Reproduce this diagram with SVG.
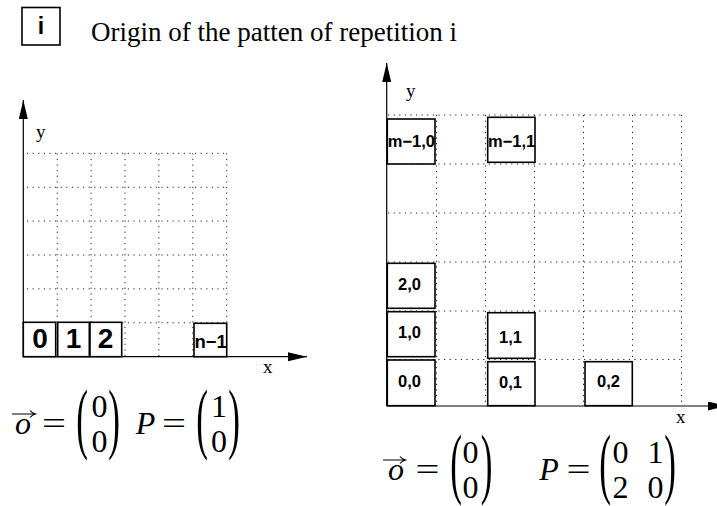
<svg xmlns="http://www.w3.org/2000/svg" width="717" height="506" viewBox="0 0 717 506">
<style>
.grid{stroke:#222;stroke-width:1;stroke-dasharray:1.2 4.4;fill:none}
.axis{stroke:#000;stroke-width:1.2;fill:none}
.box{fill:#fff;stroke:#000;stroke-width:1.6}
.lbl{font-family:"Liberation Sans",Arial,sans-serif;font-weight:bold;fill:#000}
.serif{font-family:"Liberation Serif","Times New Roman",serif;fill:#000}
.math{font-family:"Liberation Serif","Times New Roman",serif;font-size:32px;fill:#000}
.it{font-style:italic}
</style>
<defs>
<marker id="ah" markerWidth="20" markerHeight="10" refX="19" refY="4.5" orient="auto" markerUnits="userSpaceOnUse">
<path d="M0,0 L19,4.5 L0,9 Z" fill="#000"/>
</marker>
</defs>
<rect width="717" height="506" fill="#fff"/>

<g id="legend">
<rect class="box" x="22" y="7.5" width="38" height="37.5"/>
<text class="lbl" x="41" y="34" font-size="23" text-anchor="middle">i</text>
<text class="serif" x="91" y="41" font-size="27">Origin of the patten of repetition i</text>
</g>

<!-- Left grid -->
<g id="left-grid" class="grid">
<path d="M27,153.3H227M27,187.2H227M27,221.1H227M27,255H227M27,288.9H227M27,322.8H227"/>
<path d="M57.2,153.3V356.7M91.1,153.3V356.7M125,153.3V356.7M158.9,153.3V356.7M192.8,153.3V356.7M226.7,153.3V356.7"/>
</g>

<!-- Right grid -->
<g id="right-grid" class="grid">
<path d="M388,115H681.5M388,164H681.5M388,213H681.5M388,262H681.5M388,311H681.5M388,359.5H681.5"/>
<path d="M436.5,115V406M485.5,115V406M534.5,115V406M583.5,115V406M632.5,115V406M681.5,115V406"/>
</g>

<g id="connectors">
<line class="axis" x1="23.3" y1="356.7" x2="23.3" y2="100" marker-end="url(#ah)"/>
<line class="axis" x1="23.3" y1="356.7" x2="307" y2="356.7" marker-end="url(#ah)"/>
<line class="axis" x1="386.7" y1="406" x2="386.7" y2="63" marker-end="url(#ah)"/>
<line class="axis" x1="386.7" y1="406" x2="727" y2="406" marker-end="url(#ah)"/>
</g>

<g id="axis-labels" class="serif" font-size="19">
<text x="36" y="138">y</text>
<text x="263" y="373">x</text>
<text x="406" y="97">y</text>
<text x="676" y="423">x</text>
</g>

<!-- Left boxes -->
<g id="n0"><rect class="box" x="23.3" y="322.3" width="32.4" height="34.4"/><text class="lbl" x="40" y="348" font-size="28" text-anchor="middle">0</text></g>
<g id="n1"><rect class="box" x="57.7" y="322.3" width="31.6" height="34.4"/><text class="lbl" x="73.5" y="348" font-size="28" text-anchor="middle">1</text></g>
<g id="n2"><rect class="box" x="90" y="322.3" width="31.7" height="34.4"/><text class="lbl" x="105.5" y="348" font-size="28" text-anchor="middle">2</text></g>
<g id="nn1"><rect class="box" x="194" y="323.3" width="32.7" height="33.4"/><text class="lbl" x="194.5" y="348" font-size="18.5">n−1</text></g>

<!-- Right boxes -->
<g id="m10"><rect class="box" x="387.3" y="119" width="47.7" height="45"/><text class="lbl" x="387.8" y="147" font-size="16.5">m−1,0</text></g>
<g id="m11"><rect class="box" x="487.7" y="117.3" width="47.3" height="45"/><text class="lbl" x="488" y="147" font-size="16.5">m−1,1</text></g>
<g id="r20"><rect class="box" x="387.3" y="263.3" width="47.7" height="45"/><text class="lbl" x="398" y="290" font-size="16.5">2,0</text></g>
<g id="r10"><rect class="box" x="387.3" y="311.7" width="47.7" height="45"/><text class="lbl" x="398" y="338" font-size="16.5">1,0</text></g>
<g id="r00"><rect class="box" x="387.3" y="360" width="47.7" height="45.7"/><text class="lbl" x="398" y="387" font-size="16.5">0,0</text></g>
<g id="r11"><rect class="box" x="487.7" y="312.7" width="47.3" height="45.6"/><text class="lbl" x="499" y="343" font-size="16.5">1,1</text></g>
<g id="r01"><rect class="box" x="487.7" y="361.7" width="47.3" height="44"/><text class="lbl" x="499" y="388" font-size="16.5">0,1</text></g>
<g id="r02"><rect class="box" x="585" y="361.7" width="47.3" height="44"/><text class="lbl" x="597" y="387" font-size="16.5">0,2</text></g>

<!-- Left formula -->
<g id="formula-left" class="math">
<path d="M12,414H35M30,410.5Q32,413 35.5,414Q32,415 30,417.5" stroke="#000" stroke-width="1.2" fill="none"/>
<text class="it" x="23" y="434" text-anchor="middle">o</text>
<text x="42" y="434" textLength="24" lengthAdjust="spacingAndGlyphs">=</text>
<text transform="translate(82,444) scale(1.1,2.45)" text-anchor="middle">(</text>
<text x="99.5" y="417" text-anchor="middle">0</text>
<text x="99.5" y="452" text-anchor="middle">0</text>
<text transform="translate(114,444) scale(1.1,2.45)" text-anchor="middle">)</text>
<text class="it" x="145.5" y="434" text-anchor="middle">P</text>
<text x="162" y="434" textLength="24" lengthAdjust="spacingAndGlyphs">=</text>
<text transform="translate(202,444) scale(1.1,2.45)" text-anchor="middle">(</text>
<text x="219" y="417" text-anchor="middle">1</text>
<text x="219" y="452" text-anchor="middle">0</text>
<text transform="translate(234,444) scale(1.1,2.45)" text-anchor="middle">)</text>
</g>

<!-- Right formula -->
<g id="formula-right" class="math">
<path d="M383,460H405M400,456.5Q402,459 405.5,460Q402,461 400,463.5" stroke="#000" stroke-width="1.2" fill="none"/>
<text class="it" x="396" y="480" text-anchor="middle">o</text>
<text x="415.5" y="480" textLength="24" lengthAdjust="spacingAndGlyphs">=</text>
<text transform="translate(456,489) scale(1.1,2.45)" text-anchor="middle">(</text>
<text x="470.5" y="463" text-anchor="middle">0</text>
<text x="470.5" y="498" text-anchor="middle">0</text>
<text transform="translate(486.5,489) scale(1.1,2.45)" text-anchor="middle">)</text>
<text class="it" x="549" y="480" text-anchor="middle">P</text>
<text x="566.5" y="480" textLength="24" lengthAdjust="spacingAndGlyphs">=</text>
<text transform="translate(605,489) scale(1.1,2.45)" text-anchor="middle">(</text>
<text x="620.5" y="463" text-anchor="middle">0</text>
<text x="620.5" y="498" text-anchor="middle">2</text>
<text x="655.5" y="463" text-anchor="middle">1</text>
<text x="655.5" y="498" text-anchor="middle">0</text>
<text transform="translate(670,489) scale(1.1,2.45)" text-anchor="middle">)</text>
</g>
</svg>
